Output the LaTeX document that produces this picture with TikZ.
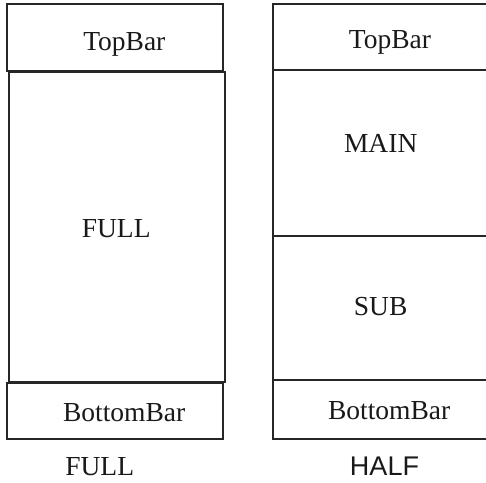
\documentclass[tikz,border=0pt]{standalone}
\usepackage{fontspec}
\setmainfont{Liberation Serif}
\newfontfamily\capsans{Liberation Sans}
\begin{document}
\begin{tikzpicture}[x=1pt,y=-1pt,
  box/.style={draw=black!85,line width=1.3pt,inner sep=0pt,rectangle},
  txt/.style={anchor=base,inner sep=0pt,text=black!90,font=\fontsize{27.5}{27.5}\selectfont},
  captxt/.style={anchor=base,inner sep=0pt,text=black!90,font=\fontsize{27.5}{27.5}\selectfont}]
\useasboundingbox (0,0) rectangle (486,482);
\clip (0,0) rectangle (486,482);
% left column
\node[box,minimum width=216pt,minimum height=67pt] (ltop) at (115,37.5) {};
\node[box,minimum width=216pt,minimum height=310pt] (lfull) at (117,227) {};
\node[box,minimum width=216pt,minimum height=56pt] (lbot) at (115,411) {};
% right column (right edge falls outside the picture)
\node[box,minimum width=260pt,minimum height=66pt] (rtop) at (403,37) {};
\node[box,minimum width=260pt,minimum height=166pt] (rmain) at (403,153) {};
\node[box,minimum width=260pt,minimum height=144pt] (rsub) at (403,308) {};
\node[box,minimum width=260pt,minimum height=59pt] (rbot) at (403,409.5) {};
% texts
\node[txt] (tltop) at (124.3,50) {TopBar};
\node[txt] (tlfull) at (116.2,237) {FULL};
\node[txt] (tlbot) at (124.2,421.5) {BottomBar};
\node[txt] (trtop) at (390,48.5) {TopBar};
\node[txt] (trmain) at (380.7,152) {MAIN};
\node[txt] (trsub) at (380.7,315) {SUB};
\node[txt] (trbot) at (389.2,419) {BottomBar};
\node[captxt] (cfull) at (99.7,475) {FULL};
\node[captxt,font=\capsans\fontsize{27}{27}\selectfont] (chalf) at (384.5,475) {HALF};
\end{tikzpicture}
\end{document}
